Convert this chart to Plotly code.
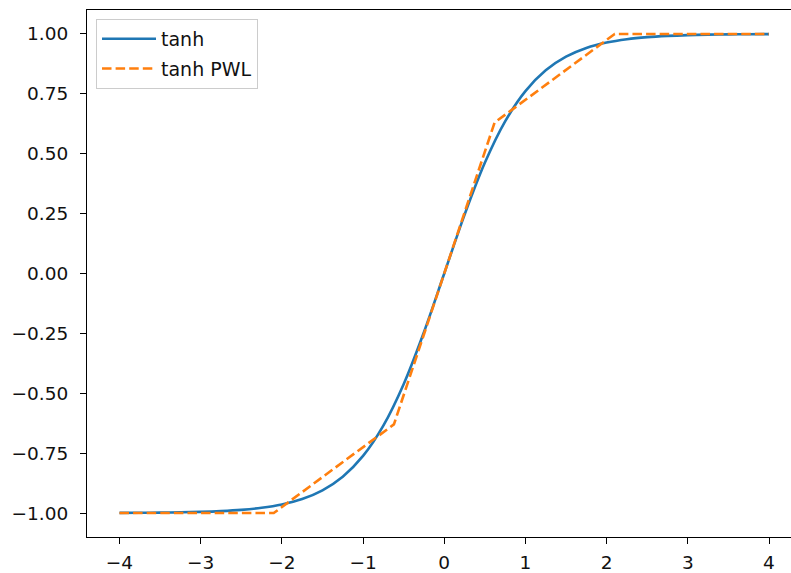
import plotly.graph_objects as go

# tanh curve
tanh_x = [-4.0, -3.75, -3.5, -3.25, -3.0, -2.75, -2.5, -2.25, -2.0, -1.75, -1.5, -1.25,
          -1.0, -0.75, -0.5, -0.25, 0.0, 0.25, 0.5, 0.75, 1.0, 1.25, 1.5, 1.75,
          2.0, 2.25, 2.5, 2.75, 3.0, 3.25, 3.5, 3.75, 4.0]
tanh_y = [-0.9993, -0.9989, -0.9982, -0.9970, -0.9951, -0.9918, -0.9866, -0.9780,
          -0.9640, -0.9414, -0.9051, -0.8483, -0.7616, -0.6351, -0.4621, -0.2449,
          0.0, 0.2449, 0.4621, 0.6351, 0.7616, 0.8483, 0.9051, 0.9414,
          0.9640, 0.9780, 0.9866, 0.9918, 0.9951, 0.9970, 0.9982, 0.9989, 0.9993]

# piecewise-linear approximation
pwl_x = [-4.0, -2.1, -0.62, 0.62, 2.1, 4.0]
pwl_y = [-1.0, -1.0, -0.63, 0.63, 1.0, 1.0]

x_ticks = [-4, -3, -2, -1, 0, 1, 2, 3, 4]
x_ticktext = ["\u22124", "\u22123", "\u22122", "\u22121", "0", "1", "2", "3", "4"]
y_ticks = [-1.0, -0.75, -0.5, -0.25, 0.0, 0.25, 0.5, 0.75, 1.0]
y_ticktext = ["\u22121.00", "\u22120.75", "\u22120.50", "\u22120.25", "0.00",
              "0.25", "0.50", "0.75", "1.00"]

fig = go.Figure()
fig.add_trace(go.Scatter(x=tanh_x, y=tanh_y, mode="lines", name="tanh",
                         line=dict(color="#1f77b4", width=2.6, shape="spline"),
                         legendgroup="a"))
fig.add_trace(go.Scatter(x=pwl_x, y=pwl_y, mode="lines", name="tanh PWL",
                         line=dict(color="#ff7f0e", width=2.6, dash="9.5px,4.1px"),
                         legendgroup="b"))

axis_common = dict(showgrid=False, zeroline=False, showline=True, linecolor="black",
                   linewidth=1.2, ticks="outside", ticklen=6, tickwidth=1.2,
                   tickcolor="black", tickfont=dict(family="DejaVu Sans", size=18.5, color="#111111"))

fig.update_xaxes(range=[-4.4, 4.271], tickvals=x_ticks, ticktext=x_ticktext,
                 mirror=True, ticklabelstandoff=3, **axis_common)
fig.update_yaxes(range=[-1.1, 1.1], tickvals=y_ticks, ticktext=y_ticktext,
                 mirror=False, ticklabelstandoff=8, **axis_common)

fig.update_layout(
    width=791, height=573,
    margin=dict(l=87, r=0, t=10, b=31),
    paper_bgcolor="white", plot_bgcolor="white",
    font=dict(family="DejaVu Sans", size=18.5, color="#111111"),
    showlegend=True,
    legend=dict(x=0.0128, y=0.983, xanchor="left", yanchor="top",
                bgcolor="rgba(255,255,255,0.8)", bordercolor="#cccccc", borderwidth=1,
                font=dict(family="DejaVu Sans", size=19, color="#111111"),
                itemwidth=54, tracegroupgap=2),
)

fig.write_html("out.html")
